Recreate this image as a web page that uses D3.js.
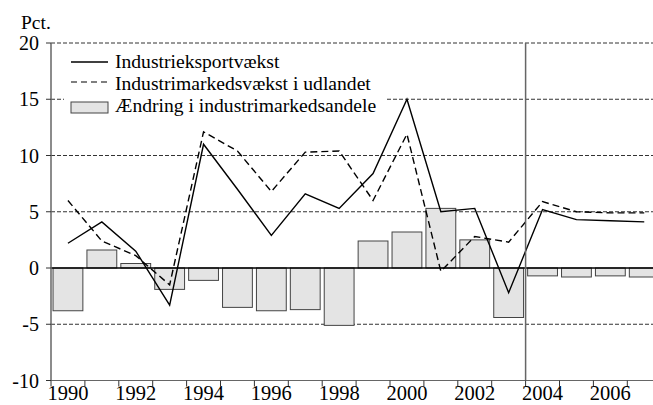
<!DOCTYPE html>
<html><head><meta charset="utf-8">
<script src="https://cdn.jsdelivr.net/npm/d3@7"></script>
<style>body{margin:0;background:#fff}svg text{font-family:'Liberation Serif','Times New Roman','DejaVu Serif',serif}</style>
</head><body><svg id="c" width="653" height="405"></svg>
<script>
const years = [1990,1991,1992,1993,1994,1995,1996,1997,1998,1999,2000,2001,2002,2003,2004,2005,2006,2007];
const exportGrowth = [2.2,4.1,1.5,-3.3,11.0,7.0,2.9,6.6,5.3,8.4,15.0,5.0,5.3,-2.2,5.2,4.3,4.2,4.1];
const marketGrowth = [6.0,2.4,1.1,-1.5,12.1,10.4,6.8,10.3,10.4,6.0,11.9,-0.3,2.8,2.3,5.9,5.0,4.9,4.9];
const shareChange = [-3.8,1.6,0.4,-1.9,-1.1,-3.5,-3.8,-3.7,-5.1,2.4,3.2,5.3,2.5,-4.4,-0.7,-0.8,-0.7,-0.8];
const yTicks = [-10,-5,0,5,10,15,20];
const xLabelYears = [1990,1992,1994,1996,1998,2000,2002,2004,2006];
const legendLabels = ["Industrieksportvækst","Industrimarkedsvækst i udlandet","Ændring i industrimarkedsandele"];
const splitYear = 2004;

const FONT = "'Liberation Serif','Times New Roman','DejaVu Serif',serif";
const svg = d3.select("#c").attr("font-family", FONT);
const x0 = 51, x1 = 51 + 18*33.9;
const x = d3.scaleBand().domain(years).range([x0, x1]).paddingInner(0.12).paddingOuter(0.06);
const y = d3.scaleLinear().domain([-10, 20]).range([380.5, 43]);
const step = x.step();
const bandStart = yr => x(yr) - x.paddingOuter()*step;
const cx = yr => x(yr) + x.bandwidth()/2;

// gridlines
svg.append("g").selectAll("line").data(yTicks.filter(d => d !== 0)).join("line")
  .attr("x1", x0).attr("x2", x1).attr("y1", d => y(d)).attr("y2", d => y(d))
  .attr("stroke", "#333").attr("stroke-width", 1).attr("stroke-dasharray", "4,2");

// legend background
svg.append("rect").attr("x", 64).attr("y", 50).attr("width", 321).attr("height", 68).attr("fill", "#fff");

// bars
svg.append("g").selectAll("rect").data(years).join("rect")
  .attr("x", d => x(d)).attr("width", x.bandwidth())
  .attr("y", (d,i) => y(Math.max(0, shareChange[i])))
  .attr("height", (d,i) => Math.abs(y(shareChange[i]) - y(0)))
  .attr("fill", "#e4e4e4").attr("stroke", "#444").attr("stroke-width", 1);

// zero line
svg.append("line").attr("x1", x0).attr("x2", x1).attr("y1", y(0)).attr("y2", y(0))
  .attr("stroke", "#000").attr("stroke-width", 1.5);

// lines
const line = arr => d3.line().x((d,i) => cx(years[i])).y(d => y(d))(arr);
svg.append("path").attr("d", line(marketGrowth)).attr("fill","none").attr("stroke","#000")
  .attr("stroke-width",1.4).attr("stroke-dasharray","7,4");
svg.append("path").attr("d", line(exportGrowth)).attr("fill","none").attr("stroke","#000")
  .attr("stroke-width",1.4);

// vertical split line
svg.append("line").attr("x1", bandStart(splitYear)).attr("x2", bandStart(splitYear))
  .attr("y1", y(20)).attr("y2", y(-10)).attr("stroke", "#666").attr("stroke-width", 1.5);

// y axis
svg.append("line").attr("x1", x0).attr("x2", x0).attr("y1", y(20)).attr("y2", y(-10))
  .attr("stroke", "#666").attr("stroke-width", 1.5);
svg.append("line").attr("x1", x0).attr("x2", x1).attr("y1", y(-10)).attr("y2", y(-10))
  .attr("stroke", "#666").attr("stroke-width", 1);
svg.append("g").selectAll("line").data(yTicks).join("line")
  .attr("x1", x0-5).attr("x2", x0).attr("y1", d => y(d)).attr("y2", d => y(d))
  .attr("stroke", "#333").attr("stroke-width", 1);
svg.append("g").selectAll("text").data(yTicks).join("text")
  .attr("x", 39).attr("y", d => y(d) + 7).attr("text-anchor", "end")
  .attr("font-size", 20).text(d => d);
svg.append("text").attr("x", 21).attr("y", 29).attr("font-size", 19.5).text("Pct.");

// x ticks
svg.append("g").selectAll("line").data(years.concat([2008])).join("line")
  .attr("x1", d => x0 + (d-1990)*step).attr("x2", d => x0 + (d-1990)*step)
  .attr("y1", y(-10)).attr("y2", y(-10)+6).attr("stroke", "#333").attr("stroke-width", 1);
svg.append("g").selectAll("text").data(xLabelYears).join("text")
  .attr("x", d => cx(d)).attr("y", 400).attr("text-anchor", "middle")
  .attr("font-size", 20.5).text(d => d);

// legend
const lg = svg.append("g");
lg.append("line").attr("x1",71).attr("x2",108).attr("y1",62).attr("y2",62).attr("stroke","#000").attr("stroke-width",1.4);
lg.append("line").attr("x1",71).attr("x2",108).attr("y1",82).attr("y2",82).attr("stroke","#000").attr("stroke-width",1.2).attr("stroke-dasharray","6,4");
lg.append("rect").attr("x",71).attr("y",102).attr("width",37).attr("height",11).attr("fill","#e4e4e4").attr("stroke","#444");
lg.selectAll("text").data(legendLabels).join("text")
  .attr("x",115).attr("y",(d,i)=>68+i*22).attr("font-size",19.6).text(d=>d);
</script></body></html>
